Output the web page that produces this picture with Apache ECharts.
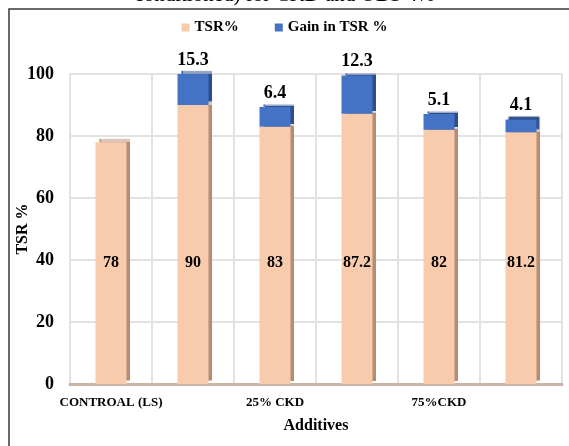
<!DOCTYPE html>
<html>
<head>
<meta charset="utf-8">
<script src="https://cdn.jsdelivr.net/npm/echarts@6/dist/echarts.min.js"></script>
<style>
  html, body { margin: 0; padding: 0; background: #ffffff; }
  #chart { width: 569px; height: 446px; }
</style>
</head>
<body>
<div id="chart"></div>
<script>
// Additive mixes on the category axis (every other label left blank)
const categories = ["CONTROAL (LS)", "", "25% CKD", "", "75%CKD", ""];
// Base TSR value for each mix
const tsrValues = [78, 90, 83, 87.2, 82, 81.2];
// Gain in TSR stacked on top of the base value
const gainValues = [null, 15.3, 6.4, 12.3, 5.1, 4.1];
// Value axis ticks
const yTicks = [0, 20, 40, 60, 80, 100];

const serif = "'Liberation Serif', 'Times New Roman', serif";

const chart = echarts.init(document.getElementById('chart'), null, { renderer: 'canvas' });

chart.setOption({
  animation: false,
  backgroundColor: '#ffffff',
  graphic: [
    {
      type: 'text',
      left: 'center',
      top: -15,
      style: {
        text: 'conditioned) for CKD and OBS 4%',
        font: "21px " + serif,
        fill: '#000000'
      },
      z: 10
    },
    {
      type: 'polyline',
      shape: { points: [[9, 446], [9, 9], [569, 9]] },
      style: { stroke: '#3a3a3a', lineWidth: 1.5, fill: null },
      z: 10
    }
  ],
  legend: {
    top: 15,
    left: 'center',
    itemWidth: 8,
    itemHeight: 8,
    itemGap: 36,
    icon: 'rect',
    textStyle: { fontFamily: serif, fontWeight: 'bold', fontSize: 15, color: '#000' },
    data: ['TSR%', 'Gain in TSR %']
  },
  grid: { left: 70, right: 7, top: 74, bottom: 62, outerBoundsMode: 'none', containLabel: false },
  xAxis: {
    type: 'category',
    data: categories,
    name: 'Additives',
    nameLocation: 'middle',
    nameGap: 34,
    nameMoveOverlap: false,
    nameTextStyle: { fontFamily: serif, fontWeight: 'bold', fontSize: 16, color: '#000' },
    axisLine: { show: true, lineStyle: { color: '#c9b4a6', width: 3 } },
    axisTick: { show: false },
    axisLabel: { interval: 0, margin: 12, fontFamily: serif, fontWeight: 'bold', fontSize: 13, color: '#000' },
    splitLine: { show: true, interval: 0, lineStyle: { color: '#e2e2e2', width: 2 } }
  },
  yAxis: {
    type: 'value',
    min: yTicks[0],
    max: yTicks[yTicks.length - 1],
    interval: yTicks[1] - yTicks[0],
    name: 'TSR %',
    nameLocation: 'middle',
    nameGap: 39,
    nameMoveOverlap: false,
    nameTextStyle: { fontFamily: serif, fontWeight: 'bold', fontSize: 16, color: '#000' },
    axisLine: { show: true, lineStyle: { color: '#e2e2e2', width: 2 } },
    axisTick: { show: false },
    axisLabel: { margin: 16, fontFamily: serif, fontWeight: 'bold', fontSize: 18, color: '#000' },
    splitLine: { show: true, lineStyle: { color: '#e2e2e2', width: 2 } }
  },
  series: [
    {
      name: 'TSR%',
      type: 'bar',
      stack: 'tsr',
      barWidth: 31,
      data: tsrValues,
      itemStyle: {
        color: '#F8CBAD',
        shadowColor: '#b48d74',
        shadowOffsetX: 3,
        shadowOffsetY: -3,
        shadowBlur: 1
      },
      // value labels sit at a common height near the foot of each bar
      label: {
        show: true,
        position: 'insideBottom',
        distance: 113,
        fontFamily: serif,
        fontWeight: 'bold',
        fontSize: 16,
        color: '#000'
      }
    },
    {
      name: 'Gain in TSR %',
      type: 'bar',
      stack: 'tsr',
      barWidth: 31,
      data: gainValues,
      itemStyle: {
        color: '#4472C4',
        shadowColor: '#2c4f8c',
        shadowOffsetX: 3,
        shadowOffsetY: -3,
        shadowBlur: 1
      },
      label: {
        show: true,
        position: 'top',
        distance: 5,
        fontFamily: serif,
        fontWeight: 'bold',
        fontSize: 18,
        color: '#000'
      }
    }
  ]
});
</script>
</body>
</html>
